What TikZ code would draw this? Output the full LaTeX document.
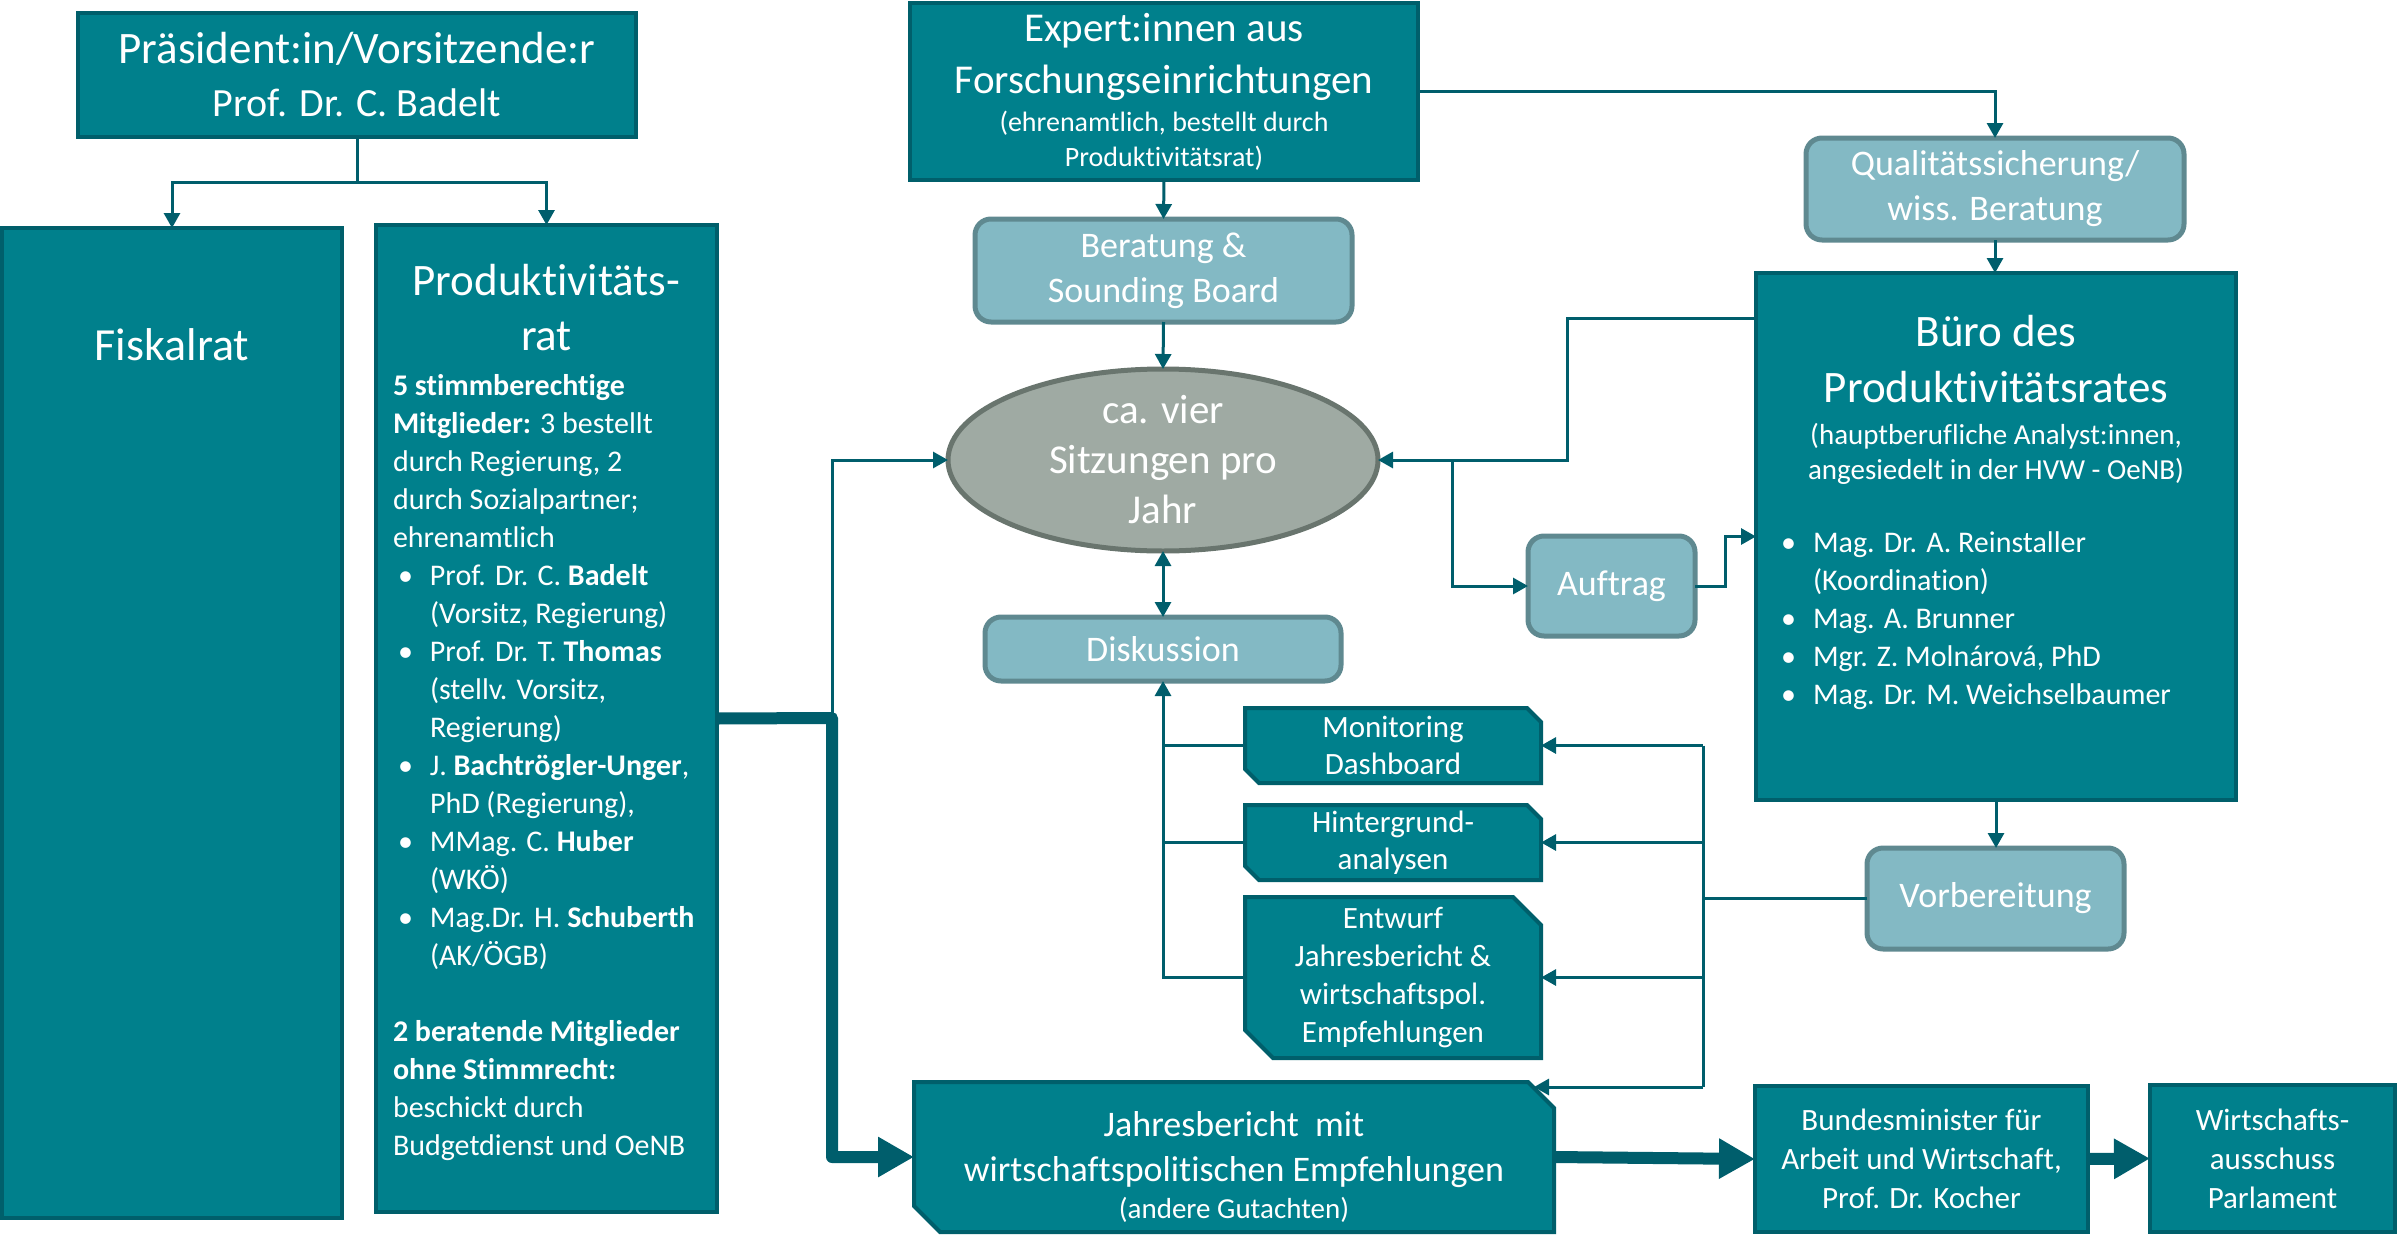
\documentclass[tikz,border=0pt]{standalone}
\usepackage{fontspec}
\setmainfont{Carlito}[Ligatures=NoCommon]
\usetikzlibrary{arrows.meta,shapes.geometric,calc,backgrounds}
\definecolor{tealfill}{RGB}{0,128,140}
\definecolor{tealdark}{RGB}{0,95,107}
\definecolor{lightfill}{RGB}{131,185,196}
\definecolor{lightdraw}{RGB}{95,137,144}
\definecolor{ellfill}{RGB}{159,170,163}
\definecolor{elldraw}{RGB}{105,117,110}
\definecolor{conncol}{RGB}{0,94,108}
\newcommand\FS[2]{\fontsize{#1}{#2}\selectfont}
\newcommand\mybul{\makebox[37pt][l]{\hspace{5pt}•}}
\newcommand\myind{\hspace*{37pt}}
% chamfered outline (top right and bottom left) behind a named node
\newcommand\chamf[2]{%
  \begin{scope}[on background layer]
  \filldraw[draw=tealdark,line width=4pt,fill=tealfill,line join=miter]
    (#1.north west) -- ($(#1.north east)+(-#2,0)$) -- ($(#1.north east)+(0,#2)$)
    -- (#1.south east) -- ($(#1.south west)+(#2,0)$) -- ($(#1.south west)+(0,-#2)$) -- cycle;
  \end{scope}}
\begin{document}
\begin{tikzpicture}[x=1pt,y=-1pt,
  darkbox/.style={draw=tealdark,line width=4pt,fill=tealfill,text=white,inner sep=0pt,outer sep=0pt,align=center},
  lightbox/.style={draw=lightdraw,line width=5pt,fill=lightfill,rounded corners=16pt,text=white,inner sep=0pt,outer sep=0pt,align=center},
  chambox/.style={text=white,inner sep=0pt,outer sep=0pt,align=center},
  txt/.style={text=white,inner sep=0pt,outer sep=0pt},
  conn/.style={draw=conncol,line width=3pt},
  arr/.style={conn,-{Triangle[length=15pt,width=16pt]}},
  thickarr/.style={draw=conncol,line width=12pt,line join=round,-{Triangle[length=36pt,width=38pt]}}
]
\useasboundingbox (0,0) rectangle (2397,1239);

% left column
\node[darkbox,minimum width=558pt,minimum height=124pt,font=\FS{45}{53}] (Pres) at (357,75)
  {Präsident:in/Vorsitzende:r\\{\FS{40}{53}Prof. Dr. C. Badelt}};
\node[darkbox,minimum width=340pt,minimum height=990pt] (Fisk) at (172,723) {};
\node[txt,font=\FS{46}{55}] (FiskT) at (172,345) {Fiskalrat};
\node[darkbox,minimum width=341pt,minimum height=987pt] (Prod) at (546.5,718.5) {};
\node[txt,align=center,anchor=north,font=\FS{45}{55}] (ProdT) at (546.5,264) {Produktivitäts-\\rat};
\node[txt,align=left,anchor=north west,font=\FS{30}{38}] (ProdB) at (393,374) {%
\textbf{5 stimmberechtige}\\
\textbf{Mitglieder:} 3 bestellt\\
durch Regierung, 2\\
durch Sozialpartner;\\
ehrenamtlich\\
\mybul Prof. Dr. C. \textbf{Badelt}\\
\myind(Vorsitz, Regierung)\\
\mybul Prof. Dr. T. \textbf{Thomas}\\
\myind(stellv. Vorsitz,\\
\myind Regierung)\\
\mybul J. \textbf{Bachtrögler-Unger},\\
\myind PhD (Regierung),\\
\mybul MMag. C. \textbf{Huber}\\
\myind(WKÖ)\\
\mybul Mag.Dr. H. \textbf{Schuberth}\\
\myind(AK/ÖGB)\\[38pt]
\textbf{2 beratende Mitglieder}\\
\textbf{ohne Stimmrecht:}\\
beschickt durch\\
Budgetdienst und OeNB};

% middle column
\node[darkbox,minimum width=508pt,minimum height=177pt,font=\FS{41}{52}] (Exp) at (1164,91.5)
  {Expert:innen aus\\Forschungseinrichtungen\\[-14pt]{\FS{28}{35}(ehrenamtlich, bestellt durch}\\[-17pt]{\FS{28}{35}Produktivitätsrat)}};
\node[lightbox,minimum width=377pt,minimum height=103pt,font=\FS{36}{45}] (Ber) at (1163.5,270.5) {Beratung \&\\Sounding Board};
\node[ellipse,draw=elldraw,line width=5pt,fill=ellfill,minimum width=430pt,minimum height=182pt,inner sep=0pt,outer sep=0pt,text=white,align=center,font=\FS{41}{50}] (Ell) at (1163,460) {ca. vier\\Sitzungen pro\\Jahr};
\node[lightbox,minimum width=356pt,minimum height=64pt,font=\FS{36}{45}] (Disk) at (1163,649) {Diskussion};
\node[lightbox,minimum width=167pt,minimum height=100pt,font=\FS{36}{45}] (Auf) at (1611.5,586) {Auftrag};
\node[chambox,minimum width=296pt,minimum height=75pt,font=\FS{31}{37}] (Mon) at (1393,745.5) {Monitoring\\Dashboard};
\chamf{Mon}{14}
\node[chambox,minimum width=296pt,minimum height=75pt,font=\FS{31}{37}] (Hin) at (1393,842.5) {Hintergrund-\\analysen};
\chamf{Hin}{14}
\node[chambox,minimum width=296pt,minimum height=161pt,font=\FS{31}{38}] (Ent) at (1393,977.5) {Entwurf\\Jahresbericht \&\\wirtschaftspol.\\Empfehlungen};
\chamf{Ent}{28}
\node[chambox,minimum width=640pt,minimum height=150pt,font=\FS{36}{45}] (Jahr) at (1234,1157)
  {\rule{0pt}{44pt}Jahresbericht~~mit\\wirtschaftspolitischen Empfehlungen\\[-8pt]{\FS{29}{35}(andere Gutachten)}};
\chamf{Jahr}{26}

% right column
\node[lightbox,minimum width=378pt,minimum height=102pt,font=\FS{36}{45}] (Qual) at (1995,189) {Qualitätssicherung/\\wiss. Beratung};
\node[darkbox,minimum width=480pt,minimum height=527pt] (Buero) at (1996,536.5) {};
\node[txt,align=center,anchor=north,font=\FS{45}{56}] (BueroT) at (1996,315) {Büro des\\Produktivitätsrates};
\node[txt,align=center,anchor=north,font=\FS{29}{35}] (BueroS) at (1996,423) {(hauptberufliche Analyst:innen,\\angesiedelt in der HVW - OeNB)};
\node[txt,align=left,anchor=north west,font=\FS{30}{38}] (BueroL) at (1776,532) {%
\mybul Mag. Dr. A. Reinstaller\\
\myind(Koordination)\\
\mybul Mag. A. Brunner\\
\mybul Mgr. Z. Molnárová, PhD\\
\mybul Mag. Dr. M. Weichselbaumer};
\node[lightbox,minimum width=257pt,minimum height=101pt,font=\FS{36}{45}] (Vorb) at (1995.5,898.5) {Vorbereitung};
\node[darkbox,minimum width=333pt,minimum height=146pt,font=\FS{31}{39}] (Bund) at (1921.5,1159) {Bundesminister für\\Arbeit und Wirtschaft,\\Prof. Dr. Kocher};
\node[darkbox,minimum width=245pt,minimum height=147pt,font=\FS{31}{39}] (Wirt) at (2272.5,1158.5) {Wirtschafts-\\ausschuss\\Parlament};

% connectors
\draw[conn] (Pres.south) -- ++(0,45) coordinate (pj);
\draw[arr] (pj) -| (Fisk.north);
\draw[arr] (pj) -| (Prod.north);

\draw[arr] (Exp.south) -- (Ber.north);
\draw[arr] (Ber.south) -- (Ell.north);
\draw[arr,{Triangle[length=15pt,width=16pt]}-{Triangle[length=15pt,width=16pt]}] (Ell.south) -- (Disk.north);
\draw[arr] (Ent.west) -| (Disk.south);
\draw[conn] (Mon.west) -- (Mon.west -| Disk.south);
\draw[conn] (Hin.west) -- (Hin.west -| Disk.south);

\draw[arr] (Exp.east) -| (Qual.north);
\draw[arr] (Qual.south) -- (Qual.south |- Buero.north);
\draw[arr] (Buero.south) -- (Buero.south |- Vorb.north);
\draw[arr] ($(Buero.north west)+(0,45)$) -- ++(-189,0) |- (Ell.east);
\coordinate (aj) at (1452,460);
\draw[arr] (aj) |- (Auf.west);
\draw[arr] (Auf.east) -- ++(30,0) |- (Buero.west);

\coordinate (bus) at (1703,0);
\coordinate (bb) at (1703,1087);
\draw[conn] (Mon.east -| bus) -- (bb);
\draw[conn] (Vorb.west) -- (Vorb.west -| bus);
\draw[arr] (Mon.east -| bus) -- (Mon.east);
\draw[arr] (Hin.east -| bus) -- (Hin.east);
\draw[arr] (Ent.east -| bus) -- (Ent.east);
\draw[arr] (bb) -- ($(Jahr.north east)+(-20,5)$);

\coordinate (tk) at (832,718);
\draw[arr] (tk) |- (Ell.west);
\draw[thickarr] (Prod.east) -- (tk) |- (Jahr.west);
\draw[thickarr] (Jahr.east) -- (Bund.west);
\draw[thickarr] (Bund.east) -- (Wirt.west);
\end{tikzpicture}
\end{document}
